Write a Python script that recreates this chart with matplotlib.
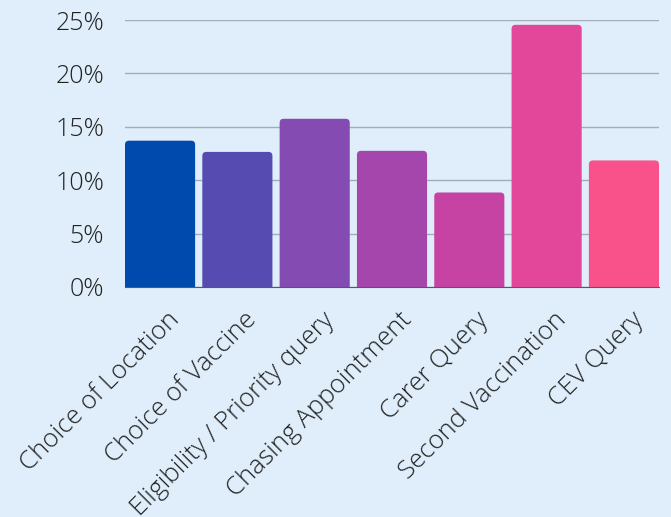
import matplotlib
matplotlib.use("Agg")
import matplotlib.pyplot as plt
import matplotlib.transforms as mtrans
from matplotlib.patches import FancyBboxPatch
from matplotlib.ticker import FuncFormatter

categories = ["Choice of Location", "Choice of Vaccine", "Eligibility / Priority query",
              "Chasing Appointment", "Carer Query", "Second Vaccination", "CEV Query"]
values = [13.7, 12.65, 15.75, 12.75, 8.85, 24.55, 11.85]
colors = ["#004aad", "#564bb0", "#844bb3", "#a546ac", "#c643a3", "#e34799", "#f9528a"]
yticks = [0, 5, 10, 15, 20, 25]

bg = "#dfeefa"
plt.rcParams['font.family'] = ['Open Sans', 'DejaVu Sans']

W, H = 671, 517
fig = plt.figure(figsize=(W / 100, H / 100), dpi=100, facecolor=bg)
ax_l, ax_r, ax_t, ax_b = 125, 659, 20, 287
ax = fig.add_axes([ax_l / W, 1 - ax_b / H, (ax_r - ax_l) / W, (ax_b - ax_t) / H])
ax.set_facecolor(bg)

bw = 0.907
n = len(categories)
bars = ax.bar(range(n), values, width=bw, color=colors, zorder=3)
ax.set_xlim(-bw / 2, n - 1 + bw / 2)
ax.set_ylim(0, 25)

# pixel scale for rounded corners
px_x = (ax_r - ax_l) / (n - 1 + bw)
px_y = (ax_b - ax_t) / 25
r_px = 4
for b in bars:
    x, y, w, h = b.get_x(), b.get_y(), b.get_width(), b.get_height()
    b.set_visible(False)
    ext = 1.0
    p = FancyBboxPatch((x, y - ext), w, h + ext,
                       boxstyle=f"round,pad=0,rounding_size={r_px / px_x}",
                       mutation_aspect=px_x / px_y,
                       facecolor=b.get_facecolor(), edgecolor="none", zorder=3)
    ax.add_patch(p)

ax.set_yticks(yticks)
ax.yaxis.set_major_formatter(FuncFormatter(lambda v, p: f"{v:.0f}%"))
ax.grid(axis='y', color="#a3adb8", linewidth=1, zorder=0)
for s in ["top", "right", "left"]:
    ax.spines[s].set_visible(False)
ax.spines["bottom"].set_color("#555a60")
ax.spines["bottom"].set_zorder(4)
ax.tick_params(axis='both', length=0, colors="#222222")
ax.tick_params(axis='y', labelsize=18, pad=15)
ax.tick_params(axis='x', labelsize=18.5, pad=6)
ax.set_xticks(range(n))
ax.set_xticklabels(categories, rotation=45, ha='right', rotation_mode='anchor')
off = mtrans.ScaledTranslation(7 / 100, -12 / 100, fig.dpi_scale_trans)
for lbl in ax.get_xticklabels():
    lbl.set_fontweight(300)
    lbl.set_transform(lbl.get_transform() + off)
for lbl in ax.get_yticklabels():
    lbl.set_fontweight(300)

fig.savefig("out.png", dpi=100, facecolor=bg)
